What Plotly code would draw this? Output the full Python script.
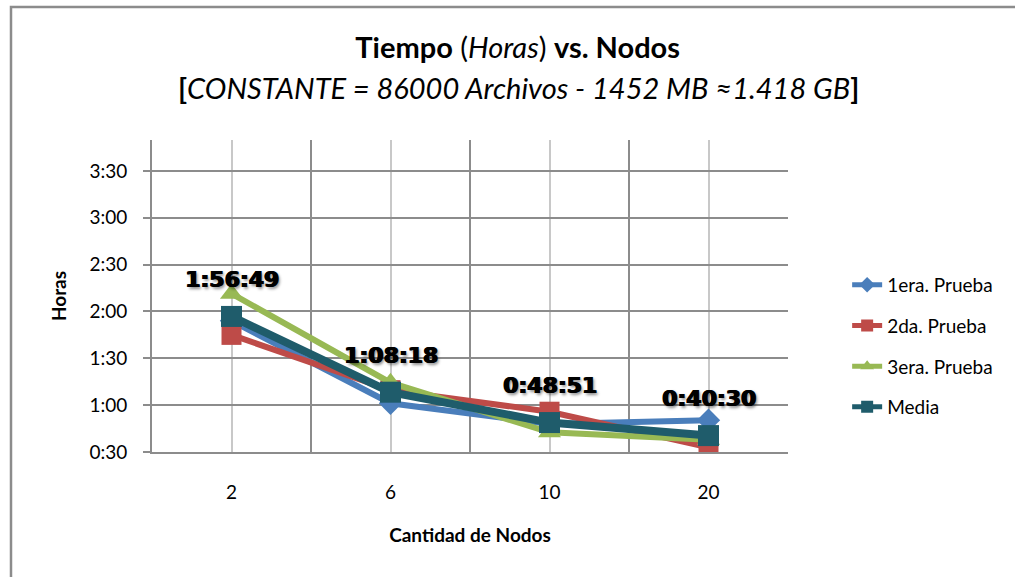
import plotly.graph_objects as go

# ---- data ----
nodos = ["2", "6", "10", "20"]
prueba1 = [1.90, 1.02, 0.80, 0.84]      # horas
prueba2 = [1.75, 1.16, 0.93, 0.55]
prueba3 = [2.19, 1.24, 0.71, 0.63]
media_txt = ["1:56:49", "1:08:18", "0:48:51", "0:40:30"]
ytick_vals = [0.5, 1.0, 1.5, 2.0, 2.5, 3.0, 3.5]
ytick_text = ["0:30", "1:00", "1:30", "2:00", "2:30", "3:00", "3:30"]


def to_hours(s):
    h, m, sec = (int(p) for p in s.split(":"))
    return h + m / 60 + sec / 3600


media = [to_hours(s) for s in media_txt]
xpos = list(range(len(nodos)))

FONT = "Lato"
fig = go.Figure()

series = [
    ("1era. Prueba", prueba1, "#4A7EBB", "diamond", 6, 18),
    ("2da. Prueba", prueba2, "#BE4B48", "square", 6, 20),
    ("3era. Prueba", prueba3, "#98B954", "triangle-up", 6, 20),
    ("Media", media, "#1F5C6B", "square", 8, 21),
]
for i, (name, vals, col, sym, lw, ms) in enumerate(series):
    fig.add_trace(go.Scatter(
        x=xpos, y=vals, name=name, mode="lines+markers",
        line=dict(color=col, width=lw),
        marker=dict(symbol=sym, size=ms, color=col),
        legendgroup=f"g{i}",
    ))

for x, y, t in zip(xpos, media, media_txt):
    fig.add_annotation(
        x=x, y=y, text=t, showarrow=False, yshift=37,
        font=dict(family="DejaVu Sans", size=22, color="black", weight="bold",
                  shadow="1px 0px 0px black, -0.5px 0px 0px black, 2px 2px 3px rgba(0,0,0,0.45)"),
    )

# title line 2
fig.add_annotation(
    xref="paper", yref="paper", x=0.5755, y=1.167, yanchor="middle",
    showarrow=False,
    text="<b>[</b><i>CONSTANTE = 86000 Archivos - 1452 MB ≈1.418 GB</i><b>]</b>",
    font=dict(family=FONT, size=29, color="black"),
)

# outer frame
fig.add_shape(type="rect", xref="paper", yref="paper",
              x0=-0.2217, x1=1.36, y0=-0.41, y1=1.426,
              line=dict(color="#8C8C8C", width=2.5), layer="below")

fig.update_layout(
    width=1015, height=577,
    margin=dict(l=152, r=227, t=140, b=125),
    paper_bgcolor="white", plot_bgcolor="white",
    title=dict(
        text="<b>Tiempo</b> (<i>Horas</i>) <b>vs. Nodos</b>",
        x=0.51, xanchor="center", y=0.917, yanchor="middle",
        font=dict(family=FONT, size=29, color="black"),
    ),
    showlegend=True,
    legend=dict(
        x=1.093, xanchor="left", y=0.34, yanchor="middle",
        font=dict(family=FONT, size=19, color="black"),
        tracegroupgap=13, bgcolor="rgba(0,0,0,0)", itemsizing="constant",
    ),
    font=dict(family=FONT, color="black"),
)

fig.update_xaxes(
    range=[-0.5, len(nodos) - 0.5],
    tickvals=xpos, ticktext=nodos,
    showgrid=True, gridcolor="#C8C8C8", gridwidth=1.5,
    minor=dict(tickvals=[-0.5, 0.5, 1.5, 2.5, 3.5], showgrid=True,
               gridcolor="#8C8C8C", gridwidth=1.5),
    showline=True, linecolor="#8C8C8C", linewidth=2,
    ticks="", ticklabelstandoff=22,
    tickfont=dict(family=FONT, size=19, color="black"),
    title=dict(text="<b>Cantidad de Nodos</b>", standoff=27,
               font=dict(family=FONT, size=19, color="black")),
    zeroline=False,
)
fig.update_yaxes(
    range=[0.5, 3.83],
    tickvals=ytick_vals, ticktext=ytick_text,
    showgrid=True, gridcolor="#8C8C8C", gridwidth=1.5,
    showline=True, linecolor="#8C8C8C", linewidth=2,
    ticks="outside", ticklen=7, tickcolor="#8C8C8C", tickwidth=1.5,
    ticklabelstandoff=12,
    tickfont=dict(family=FONT, size=19, color="black"),
    title=dict(text="<b>Horas</b>", standoff=18,
               font=dict(family=FONT, size=19, color="black")),
    zeroline=False,
)

fig.write_html("out.html", config={"displayModeBar": False},
               post_script="document.body.style.margin='0';")
